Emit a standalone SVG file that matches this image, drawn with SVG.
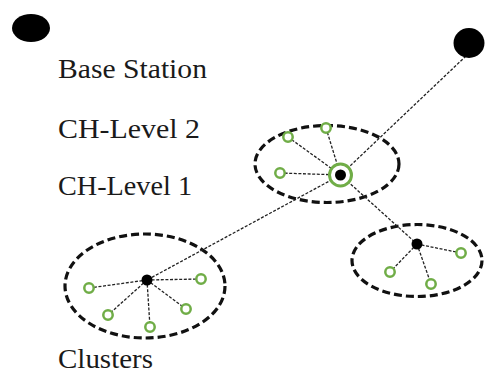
<svg xmlns="http://www.w3.org/2000/svg" width="485" height="376" viewBox="0 0 485 376">
<style>
.lbl{font-family:"Liberation Serif","Times New Roman",serif;font-size:27px;fill:#1a1a1a}
.link{stroke:#222;stroke-width:1.3;stroke-dasharray:3 1.6;fill:none}
.clu{fill:none;stroke:#111;stroke-width:3.2;stroke-dasharray:8 4}
.sn{fill:#fff;stroke:#70AD47;stroke-width:2.5}
.ch{fill:#000}
</style>
<rect width="485" height="376" fill="#fff"/>
<g id="legend">
<ellipse cx="31" cy="28" rx="19" ry="14" fill="#000"/>
<text class="lbl" x="58" y="78" textLength="149" lengthAdjust="spacingAndGlyphs">Base Station</text>
<text class="lbl" x="58" y="138" textLength="142" lengthAdjust="spacingAndGlyphs">CH-Level 2</text>
<text class="lbl" x="58" y="195" textLength="134" lengthAdjust="spacingAndGlyphs">CH-Level 1</text>
<text class="lbl" x="58" y="368" textLength="95" lengthAdjust="spacingAndGlyphs">Clusters</text>
</g>
<g id="clusters">
<ellipse id="cluster-mid" class="clu" cx="327" cy="164" rx="72" ry="38.5"/>
<ellipse id="cluster-left" class="clu" cx="145" cy="286" rx="80" ry="52"/>
<ellipse id="cluster-right" class="clu" cx="417" cy="260.5" rx="65" ry="36"/>
</g>
<g id="connectors">
<line class="link" x1="466" y1="56" x2="340.5" y2="175"/>
<line class="link" x1="340.5" y1="175" x2="147" y2="280"/>
<line class="link" x1="340.5" y1="175" x2="417" y2="244"/>
<line class="link" x1="288" y1="137" x2="340.5" y2="175"/>
<line class="link" x1="326" y1="128" x2="340.5" y2="175"/>
<line class="link" x1="280" y1="173" x2="340.5" y2="175"/>
<line class="link" x1="147" y1="280" x2="89" y2="288"/>
<line class="link" x1="147" y1="280" x2="201" y2="279"/>
<line class="link" x1="147" y1="280" x2="108" y2="315"/>
<line class="link" x1="147" y1="280" x2="150" y2="327"/>
<line class="link" x1="147" y1="280" x2="186" y2="309"/>
<line class="link" x1="417" y1="244" x2="461" y2="253"/>
<line class="link" x1="417" y1="244" x2="390" y2="272"/>
<line class="link" x1="417" y1="244" x2="431" y2="284"/>
</g>
<g id="base-station"><ellipse cx="469" cy="43" rx="15.5" ry="15" fill="#000"/></g>
<g id="ch2">
<circle cx="340.5" cy="175" r="11" fill="#fff" stroke="#70AD47" stroke-width="3"/>
<circle class="ch" cx="340.5" cy="175" r="5.5"/>
</g>
<g id="ch1-left"><circle class="ch" cx="147" cy="280" r="5.5"/></g>
<g id="ch1-right"><circle class="ch" cx="417" cy="244" r="5.5"/></g>
<g id="sensors-mid">
<circle class="sn" cx="288" cy="137" r="4.7"/>
<circle class="sn" cx="326" cy="128" r="4.7"/>
<circle class="sn" cx="280" cy="173" r="4.7"/>
</g>
<g id="sensors-left">
<circle class="sn" cx="89" cy="288" r="4.7"/>
<circle class="sn" cx="201" cy="279" r="4.7"/>
<circle class="sn" cx="108" cy="315" r="4.7"/>
<circle class="sn" cx="150" cy="327" r="4.7"/>
<circle class="sn" cx="186" cy="309" r="4.7"/>
</g>
<g id="sensors-right">
<circle class="sn" cx="461" cy="253" r="4.7"/>
<circle class="sn" cx="390" cy="272" r="4.7"/>
<circle class="sn" cx="431" cy="284" r="4.7"/>
</g>
</svg>
